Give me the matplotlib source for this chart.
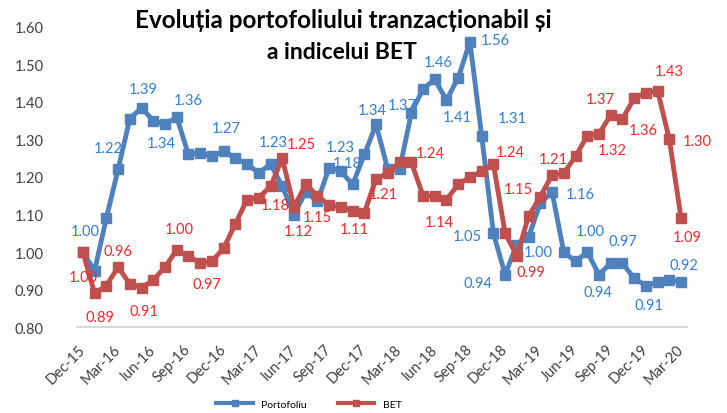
import matplotlib.pyplot as plt
from matplotlib.lines import Line2D

plt.rcParams['font.family'] = ['Lato', 'DejaVu Sans']

# monthly values Dec-15 .. Mar-20 (52 points)
portofoliu = [1.00, 0.95, 1.09, 1.22, 1.355, 1.385, 1.35, 1.34, 1.36, 1.26,
              1.265, 1.255, 1.27, 1.25, 1.235, 1.21, 1.235, 1.175, 1.10, 1.16,
              1.135, 1.225, 1.215, 1.18, 1.26, 1.34, 1.22, 1.22, 1.37, 1.435,
              1.46, 1.405, 1.465, 1.56, 1.31, 1.05, 0.94, 1.02, 1.04, 1.13,
              1.16, 1.00, 0.975, 1.00, 0.94, 0.97, 0.97, 0.93, 0.91, 0.92,
              0.925, 0.92]
bet = [1.00, 0.89, 0.91, 0.96, 0.915, 0.905, 0.925, 0.96, 1.005, 0.99,
       0.97, 0.975, 1.01, 1.075, 1.14, 1.145, 1.175, 1.25, 1.12, 1.18,
       1.15, 1.125, 1.12, 1.11, 1.105, 1.195, 1.21, 1.24, 1.24, 1.15,
       1.15, 1.14, 1.18, 1.20, 1.215, 1.235, 1.05, 0.99, 1.095, 1.148,
       1.205, 1.21, 1.255, 1.31, 1.315, 1.365, 1.355, 1.41, 1.425, 1.43,
       1.30, 1.09]
tick_labels = ['Dec-15', 'Mar-16', 'Iun-16', 'Sep-16', 'Dec-16', 'Mar-17',
               'Iun-17', 'Sep-17', 'Dec-17', 'Mar-18', 'Iun-18', 'Sep-18',
               'Dec-18', 'Mar-19', 'Jun-19', 'Sep-19', 'Dec-19', 'Mar-20']

# data labels: (point index, text)
port_label_idx = [0, 3, 5, 7, 8, 12, 16, 21, 23, 25, 28, 30, 31, 33, 34, 35,
                  36, 38, 40, 43, 44, 46, 48, 51]
port_label_txt = ['1.00', '1.22', '1.39', '1.34', '1.36', '1.27', '1.23', '1.23',
                  '1.18', '1.34', '1.37', '1.46', '1.41', '1.56', '1.31', '1.05',
                  '0.94', '1.00', '1.16', '1.00', '0.94', '0.97', '0.91', '0.92']
bet_label_idx = [0, 1, 3, 5, 8, 11, 16, 17, 18, 20, 23, 26, 28, 31, 35, 37,
                 39, 40, 44, 45, 46, 49, 50, 51]
bet_label_txt = ['1.00', '0.89', '0.96', '0.91', '1.00', '0.97', '1.18', '1.25',
                 '1.12', '1.15', '1.11', '1.21', '1.24', '1.14', '1.24', '0.99',
                 '1.15', '1.21', '1.32', '1.37', '1.36', '1.43', '1.30', '1.09']

# label offsets in pixels (dx right, dy down), as placed in the original
port_off = [(2, -21), (-10, -21), (2, -19), (-4, 19), (12, -17), (3, -23),
            (3, -22), (11, -21), (-5, -21), (-4, -14), (-9, -8), (3, -17),
            (11, 17), (25, -2), (31, -18), (-26, 3), (-27, 8), (10, 15),
            (28, 2), (3, -21), (-1, 17), (1, -22), (3, 19), (3, -17)]
bet_off = [(0, 25), (5, 24), (0, -16), (2, 23), (3, -21), (-5, 23), (5, 19),
           (19, -14), (4, 24), (0, 21), (2, 18), (-5, 21), (19, -9), (-7, 22),
           (17, -12), (14, 16), (-22, -8), (1, -16), (13, 16), (-10, -16),
           (21, 11), (12, -20), (28, 2), (6, 19)]

blue = '#4F81BD'
red = '#C0504D'
blue_txt = '#2F7ED8'
red_txt = '#F52626'

fig = plt.figure(figsize=(7.27, 4.14), dpi=100)
ax = fig.add_axes([0.1059, 0.2077, 0.8390, 0.7247])

x = list(range(len(portofoliu)))
ax.plot(x, portofoliu, color=blue, lw=3.5, marker='s', ms=7, label='Portofoliu')
ax.plot(x, bet, color=red, lw=3.5, marker='s', ms=7, label='BET')

for i, t, (dx, dy) in zip(port_label_idx, port_label_txt, port_off):
    ax.annotate(t, (i, portofoliu[i]), xytext=(dx, -dy), textcoords='offset pixels',
                ha='center', va='center', color=blue_txt, fontsize=10.5, zorder=5)
for i, t, (dx, dy) in zip(bet_label_idx, bet_label_txt, bet_off):
    ax.annotate(t, (i, bet[i]), xytext=(dx, -dy), textcoords='offset pixels',
                ha='center', va='center', color=red_txt, fontsize=10.5, zorder=5)

ax.set_xlim(-0.5, len(x) - 0.5)
ax.set_ylim(0.8, 1.6)
ax.set_yticks([0.8, 0.9, 1.0, 1.1, 1.2, 1.3, 1.4, 1.5, 1.6])
ax.set_yticklabels(['%.2f' % v for v in ax.get_yticks()], fontsize=10.5, color='#404040')
ax.set_xticks(range(0, len(x), 3))
ax.set_xticklabels(tick_labels, rotation=45, ha='right', va='center',
                   rotation_mode='anchor', fontsize=10.5, color='#404040')
ax.tick_params(axis='y', length=0, pad=24)
ax.tick_params(axis='x', length=0, pad=14)
for s in ['top', 'right', 'left']:
    ax.spines[s].set_visible(False)
ax.spines['bottom'].set_color('#D9D9D9')
ax.spines['bottom'].set_linewidth(1.5)

fig.text(0.4725, 0.950, 'Evoluția portofoliului tranzacționabil și',
         ha='center', va='center', fontsize=17.5, fontweight='bold')
fig.text(0.470, 0.874, 'a indicelui BET',
         ha='center', va='center', fontsize=16.5, fontweight='bold')

handles = [Line2D([], [], color=blue, lw=3, marker='s', ms=5),
           Line2D([], [], color=red, lw=3, marker='s', ms=5)]
fig.legend(handles, ['Portofoliu', 'BET'], loc='center', bbox_to_anchor=(0.425, 0.022),
           ncol=2, frameon=False, fontsize=7.5, handlelength=3.5, columnspacing=3)

fig.savefig('out.png', dpi=100)
